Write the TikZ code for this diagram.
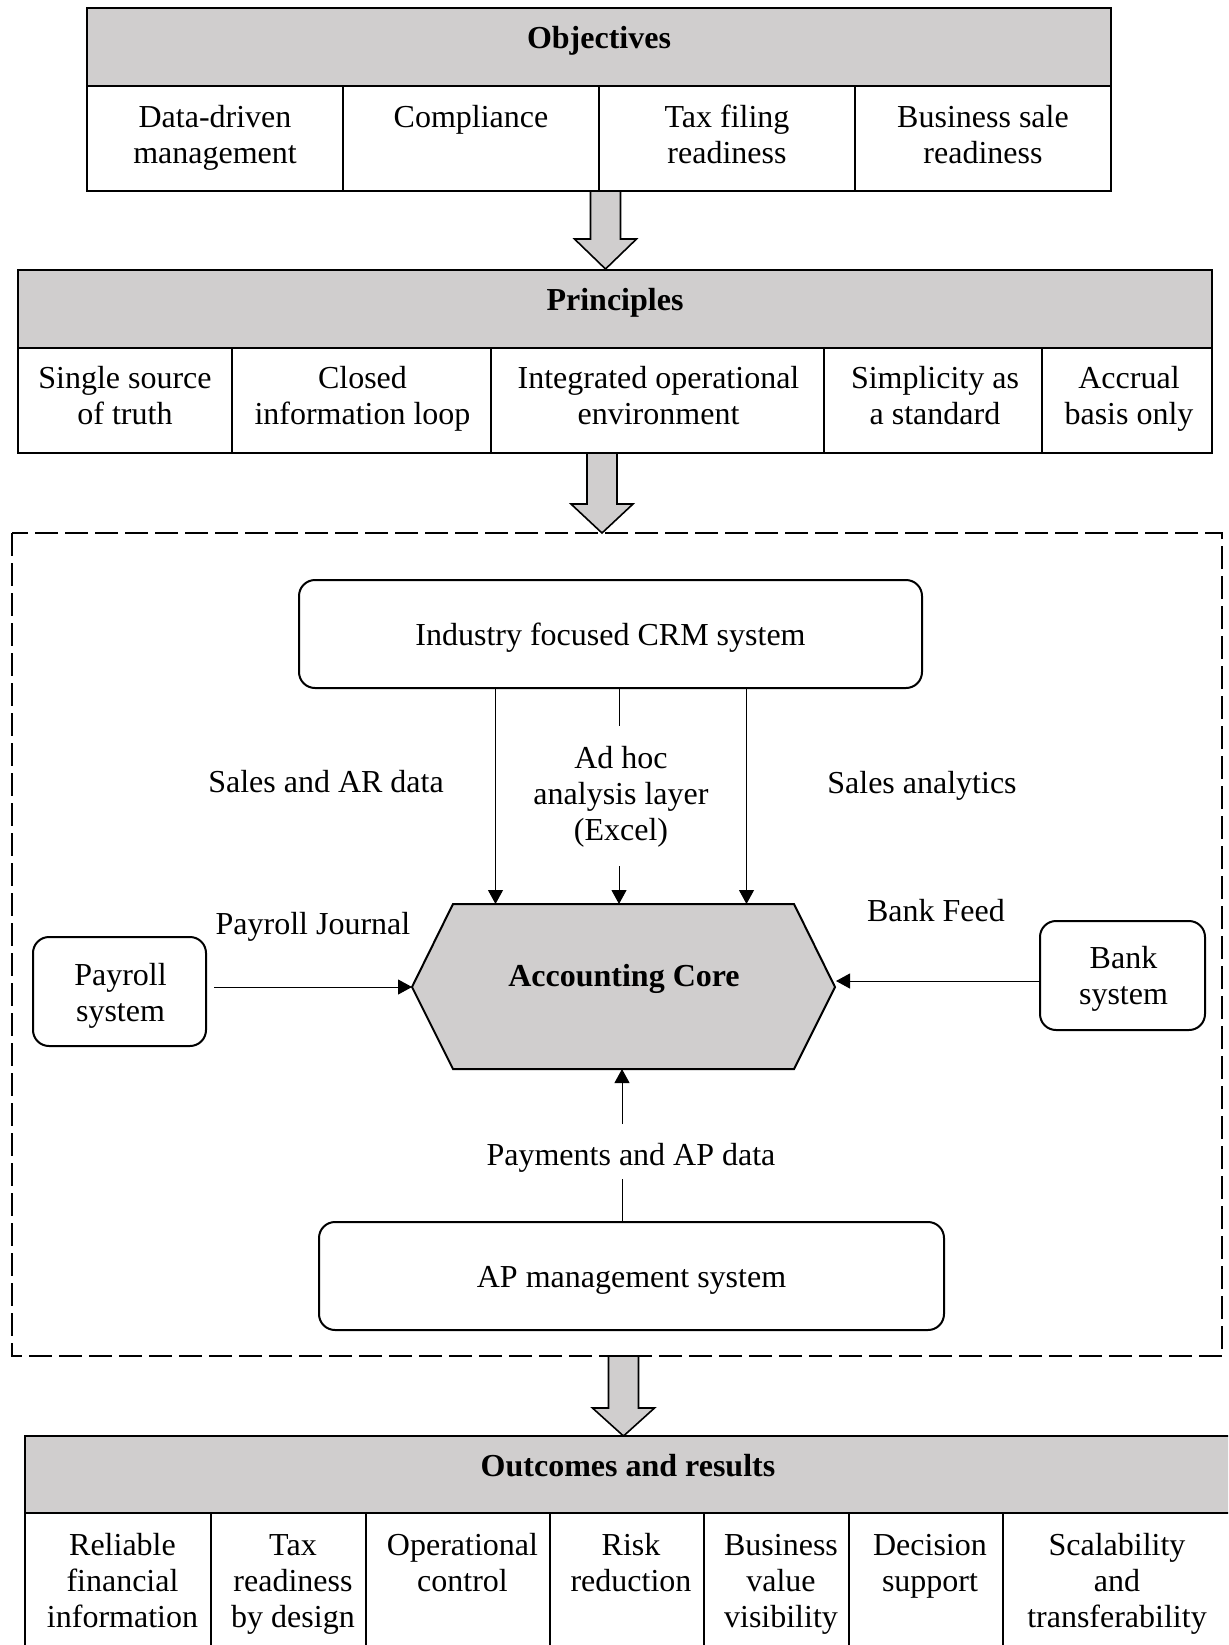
\documentclass[tikz,border=0pt]{standalone}
\usepackage{fontspec}
\setmainfont{Liberation Serif}
\usetikzlibrary{arrows.meta}
\definecolor{hdr}{RGB}{208,206,206}
\newcommand\bodyfs{\fontsize{16}{18}\selectfont}
\newcommand\bigarrow[4]{%
  \draw[bigarr] ({#1-15},#2) -- ({#1+15},#2) -- ({#1+15},#3) -- ({#1+31},#3) -- (#1,#4) -- ({#1-31},#3) -- ({#1-15},#3) -- cycle;}
\begin{document}
\begin{tikzpicture}[x=0.5pt,y=-0.5pt,
  blk/.style={draw=black, line width=0.75pt},
  hdrtxt/.style={anchor=base, inner sep=0pt, font=\bodyfs\bfseries},
  celltxt/.style={anchor=north, align=center, inner sep=0pt, font=\bodyfs},
  lbl/.style={anchor=base, inner sep=0pt, font=\bodyfs},
  sysbox/.style={draw, line width=1pt, rounded corners=8pt, align=center, font=\bodyfs, inner sep=0pt},
  oneline/.style={text height=11pt, text depth=0pt},
  conn/.style={line width=0.5pt},
  arr/.style={conn, -{Triangle[length=7pt,width=7.5pt]}},
  bigarr/.style={draw, fill=hdr, line width=0.8pt, line join=miter},
]
\useasboundingbox (0,0) rectangle (1228,1645);
\clip (0,0) rectangle (1228,1645);

% ---------- Objectives ----------
\fill[hdr] (87,8) rectangle (1111,86);
\draw[blk] (87,8) rectangle (1111,191);
\draw[blk] (87,86) -- (1111,86);
\foreach \x in {343,599,855} \draw[blk] (\x,86) -- (\x,191);
\node[hdrtxt] (objh) at (599,48) {Objectives};
\node[celltxt] (o1) at (215,101.8) {\strut Data-driven\\management};
\node[celltxt] (o2) at (471,101.8) {\strut Compliance};
\node[celltxt] (o3) at (727,101.8) {\strut Tax filing\\readiness};
\node[celltxt] (o4) at (983,101.8) {\strut Business sale\\readiness};

\bigarrow{605.5}{191}{239}{269}

% ---------- Principles ----------
\fill[hdr] (18,270) rectangle (1212,348);
\draw[blk] (18,270) rectangle (1212,453);
\draw[blk] (18,348) -- (1212,348);
\foreach \x in {232,491,824,1042} \draw[blk] (\x,348) -- (\x,453);
\node[hdrtxt] (prh) at (615,310) {Principles};
\node[celltxt] (p1) at (125,362.8) {\strut Single source\\of truth};
\node[celltxt] (p2) at (362.5,362.8) {\strut Closed\\information loop};
\node[celltxt] (p3) at (658.5,362.8) {\strut Integrated operational\\environment};
\node[celltxt] (p4) at (935,362.8) {\strut Simplicity as\\a standard};
\node[celltxt] (p5) at (1129,362.8) {\strut Accrual\\basis only};

\bigarrow{602}{453}{504}{533}

% ---------- System frame ----------
\draw[line width=1.1pt, dash pattern=on 11.5pt off 3.5pt] (12,533) rectangle (1222,1356);

\node[sysbox, oneline, minimum width=311.5pt, minimum height=54pt] (crm) at (610.5,634) {Industry focused CRM system};
\node[sysbox, oneline, minimum width=312.5pt, minimum height=54pt] (ap) at (631.5,1276) {AP management system};
\node[sysbox, minimum width=86.5pt, minimum height=54.5pt] (payroll) at (119.5,991.5) {};
\node[sysbox, minimum width=82.5pt, minimum height=54.5pt] (bank) at (1122.5,975.5) {};
\node[celltxt] (payrollT) at (120.5,959.8) {\strut Payroll\\system};
\node[celltxt] (bankT) at (1123.5,942.8) {\strut Bank\\system};

% Accounting core hexagon
\coordinate (coreW) at (412,987);
\coordinate (coreE) at (835,987);
\coordinate (coreEa) at (836,981);
\coordinate (coreN) at (619,904);
\coordinate (coreS) at (622,1069);
\draw[fill=hdr, line width=1pt, line join=miter] (coreW) -- (453,904) -- (794,904) -- (coreE) -- (794,1069) -- (453,1069) -- cycle;
\node[hdrtxt] (core) at (624,986) {Accounting Core};

% labels
\node[lbl] (salesar) at (326,792) {Sales and AR data};
\node[celltxt] (adhoc) at (621,743.3) {\strut Ad hoc\\analysis layer\\(Excel)};
\node[lbl] (salesan) at (922,793) {Sales analytics};
\node[lbl] (payj) at (313,934) {Payroll Journal};
\node[lbl] (bankf) at (936,921) {Bank Feed};
\node[lbl] (payap) at (631,1165) {Payments and AP data};

% connectors from CRM
\coordinate (cL) at (495.5,0);
\coordinate (cR) at (746.5,0);
\coordinate (m1) at (619,726);
\coordinate (m2) at (619,866);
\draw[arr] (crm.south -| cL) -- (coreN -| cL);
\draw[arr] (crm.south -| cR) -- (coreN -| cR);
\draw[conn] (crm.south -| m1) -- (m1);
\draw[arr] (m2) -- (coreN);

% payroll and bank
\draw[arr, shorten <=3.5pt] (payroll.east |- coreW) -- (coreW);
\draw[arr] (bank.west |- coreEa) -- (coreEa);

% AP
\coordinate (b1) at (622,1124);
\coordinate (b2) at (622,1179);
\draw[arr] (b1) -- (coreS);
\draw[conn] (ap.north -| b2) -- (b2);

\bigarrow{623.5}{1356}{1408}{1436}

% ---------- Outcomes ----------
\fill[hdr] (25,1436) rectangle (1231,1513);
\draw[blk] (25,1436) rectangle (1231,1700);
\draw[blk] (25,1513) -- (1231,1513);
\foreach \x in {211,366,550,704,849,1003} \draw[blk] (\x,1513) -- (\x,1700);
\node[hdrtxt] (outh) at (628,1476) {Outcomes and results};
\node[celltxt] (r1) at (122.5,1529.8) {\strut Reliable\\financial\\information};
\node[celltxt] (r2) at (293,1529.8) {\strut Tax\\readiness\\by design};
\node[celltxt] (r3) at (462.5,1529.8) {\strut Operational\\control};
\node[celltxt] (r4) at (631,1529.8) {\strut Risk\\reduction};
\node[celltxt] (r5) at (781,1529.8) {\strut Business\\value\\visibility};
\node[celltxt] (r6) at (930,1529.8) {\strut Decision\\support};
\node[celltxt] (r7) at (1117,1529.8) {\strut Scalability\\and\\transferability};
\end{tikzpicture}
\end{document}
